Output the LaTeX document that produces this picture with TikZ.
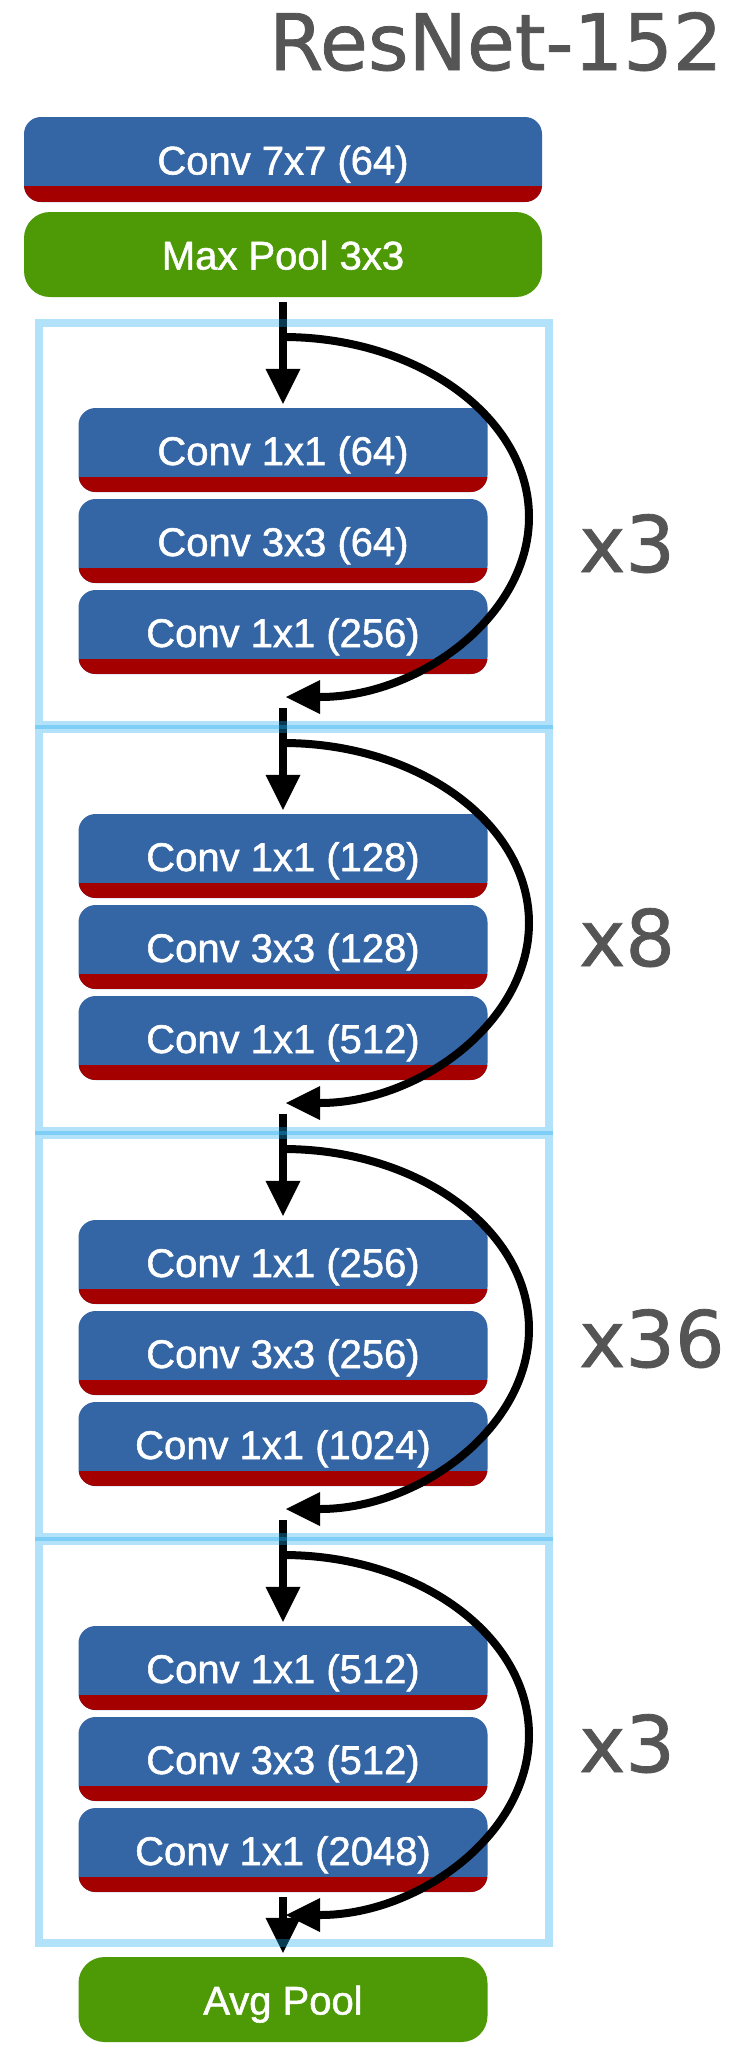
\documentclass[tikz,border=0pt]{standalone}
\usepackage{fontspec}
\setmainfont{Liberation Sans}
\newfontfamily\boxfont{Liberation Sans}[FakeBold=1.3]
\newfontfamily\countfont{DejaVu Sans}[FakeBold=1]
\usetikzlibrary{arrows.meta}
\definecolor{convblue}{RGB}{52,101,164}
\definecolor{convred}{RGB}{164,0,0}
\definecolor{poolgreen}{RGB}{78,154,6}
\definecolor{frameblue}{RGB}{29,170,243}
\definecolor{countgray}{RGB}{85,85,85}

\begin{document}
\begin{tikzpicture}[x=1pt,y=-1pt,
  boxbase/.style={minimum width=409pt, minimum height=84pt, inner sep=0pt,
    text=white, font=\boxfont\fontsize{40}{48}\selectfont,
    text height=30pt, text depth=0pt},
  conv/.style={boxbase, rounded corners=17pt, fill=convblue,
    path picture={\fill[convred, sharp corners]
      (path picture bounding box.south west) rectangle
      ([yshift=#1]path picture bounding box.south east);}},
  conv/.default=15pt,
  pool/.style={boxbase, rounded corners=26pt, fill=poolgreen},
  flowarrow/.style={line width=8pt,
    -{Triangle[length=35pt,width=35pt,line width=0pt]}},
  shortcut/.style={line width=8pt,
    -{Triangle[length=34pt,width=34pt,line width=0pt]}},
  blockframe/.style={draw=frameblue, draw opacity=0.34, line width=8pt,
    minimum width=510pt, minimum height=402pt, inner sep=0pt},
  repcount/.style={text=countgray, font=\countfont\fontsize{78}{90}\selectfont,
    anchor=base west, inner sep=0pt}
]
\useasboundingbox (0,0) rectangle (747,2048);
\fill[white] (0,0) rectangle (747,2048);

% title
\node[repcount] (title) at (269,70) {ResNet-152};

% stem
\node[conv=16pt, minimum width=518pt, minimum height=85pt] (stem) at (283,159.5) {Conv 7x7 (64)};
\node[pool, minimum width=518pt, minimum height=85pt] (maxpool) at (283,254.5) {Max Pool 3x3};

% bottleneck stages
\foreach \k/\T/\iy/\la/\lb/\lc/\rep/\base in {
  1/323/302/{Conv 1x1 (64)}/{Conv 3x3 (64)}/{Conv 1x1 (256)}/x3/572,
  2/729/708/{Conv 1x1 (128)}/{Conv 3x3 (128)}/{Conv 1x1 (512)}/x8/966,
  3/1135/1114/{Conv 1x1 (256)}/{Conv 3x3 (256)}/{Conv 1x1 (1024)}/x36/1367,
  4/1541/1520/{Conv 1x1 (512)}/{Conv 3x3 (512)}/{Conv 1x1 (2048)}/x3/1772}
{
  \node[conv] (b\k-1) at (283,\T+127) {\la};
  \node[conv] (b\k-2) at (283,\T+218) {\lb};
  \node[conv] (b\k-3) at (283,\T+309) {\lc};
  \coordinate (in\k) at (283,\iy);
  \draw[flowarrow, shorten >=4pt] (in\k) -- (b\k-1.north);
  \coordinate (sk\k) at (283,\T+14);
  \coordinate (mk\k) at (529,\T+194);
  \coordinate (ek\k) at (286,\T+374);
  \draw[shortcut] (sk\k) .. controls +(136,0) and +(0,-99) .. (mk\k)
                         .. controls +(0,99) and +(133,0) .. (ek\k);
  \node[repcount] (rep\k) at (579,\base) {\rep};
}

% head
\node[pool, minimum height=85pt] (avgpool) at (283,1999.5) {Avg Pool};
\coordinate (out) at (283,1897);
\draw[flowarrow, shorten >=4pt] (out) -- (avgpool.north);

% translucent stage frames, laid over the arrows
\foreach \k/\T in {1/323,2/729,3/1135,4/1541}
  \node[blockframe] (blk\k) at (294,\T+201) {};
\end{tikzpicture}
\end{document}
